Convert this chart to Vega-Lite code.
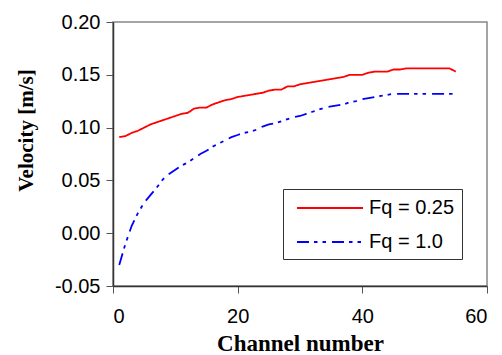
{
  "$schema": "https://vega.github.io/schema/vega-lite/v6.json",
  "width": 374,
  "height": 264,
  "autosize": {"type": "none"},
  "padding": {"left": 113, "top": 22, "right": 15, "bottom": 69},
  "background": "white",
  "config": {
    "view": {"stroke": "#888888", "strokeWidth": 1.5},
    "axis": {
      "labelFont": "Liberation Sans",
      "labelFontSize": 20,
      "labelColor": "black",
      "titleFont": "Liberation Serif",
      "titleFontWeight": "bold",
      "titleColor": "black",
      "domainColor": "#333333",
      "domainWidth": 1.5,
      "tickColor": "#555555",
      "tickSize": 7,
      "grid": false
    },
    "legend": {
      "labelFont": "Liberation Sans",
      "labelFontSize": 20,
      "labelColor": "black"
    }
  },
  "data": {
    "values": [
      {"ch": 1, "v": 0.091, "s": "Fq = 0.25"},
      {"ch": 2, "v": 0.092, "s": "Fq = 0.25"},
      {"ch": 3, "v": 0.095, "s": "Fq = 0.25"},
      {"ch": 4, "v": 0.097, "s": "Fq = 0.25"},
      {"ch": 5, "v": 0.100, "s": "Fq = 0.25"},
      {"ch": 6, "v": 0.103, "s": "Fq = 0.25"},
      {"ch": 7, "v": 0.105, "s": "Fq = 0.25"},
      {"ch": 8, "v": 0.107, "s": "Fq = 0.25"},
      {"ch": 9, "v": 0.109, "s": "Fq = 0.25"},
      {"ch": 10, "v": 0.111, "s": "Fq = 0.25"},
      {"ch": 11, "v": 0.113, "s": "Fq = 0.25"},
      {"ch": 12, "v": 0.114, "s": "Fq = 0.25"},
      {"ch": 13, "v": 0.118, "s": "Fq = 0.25"},
      {"ch": 14, "v": 0.119, "s": "Fq = 0.25"},
      {"ch": 15, "v": 0.119, "s": "Fq = 0.25"},
      {"ch": 16, "v": 0.122, "s": "Fq = 0.25"},
      {"ch": 17, "v": 0.124, "s": "Fq = 0.25"},
      {"ch": 18, "v": 0.126, "s": "Fq = 0.25"},
      {"ch": 19, "v": 0.127, "s": "Fq = 0.25"},
      {"ch": 20, "v": 0.129, "s": "Fq = 0.25"},
      {"ch": 21, "v": 0.130, "s": "Fq = 0.25"},
      {"ch": 22, "v": 0.131, "s": "Fq = 0.25"},
      {"ch": 23, "v": 0.132, "s": "Fq = 0.25"},
      {"ch": 24, "v": 0.133, "s": "Fq = 0.25"},
      {"ch": 25, "v": 0.135, "s": "Fq = 0.25"},
      {"ch": 26, "v": 0.136, "s": "Fq = 0.25"},
      {"ch": 27, "v": 0.136, "s": "Fq = 0.25"},
      {"ch": 28, "v": 0.139, "s": "Fq = 0.25"},
      {"ch": 29, "v": 0.139, "s": "Fq = 0.25"},
      {"ch": 30, "v": 0.141, "s": "Fq = 0.25"},
      {"ch": 31, "v": 0.142, "s": "Fq = 0.25"},
      {"ch": 32, "v": 0.143, "s": "Fq = 0.25"},
      {"ch": 33, "v": 0.144, "s": "Fq = 0.25"},
      {"ch": 34, "v": 0.145, "s": "Fq = 0.25"},
      {"ch": 35, "v": 0.146, "s": "Fq = 0.25"},
      {"ch": 36, "v": 0.147, "s": "Fq = 0.25"},
      {"ch": 37, "v": 0.148, "s": "Fq = 0.25"},
      {"ch": 38, "v": 0.150, "s": "Fq = 0.25"},
      {"ch": 39, "v": 0.150, "s": "Fq = 0.25"},
      {"ch": 40, "v": 0.150, "s": "Fq = 0.25"},
      {"ch": 41, "v": 0.152, "s": "Fq = 0.25"},
      {"ch": 42, "v": 0.153, "s": "Fq = 0.25"},
      {"ch": 43, "v": 0.153, "s": "Fq = 0.25"},
      {"ch": 44, "v": 0.153, "s": "Fq = 0.25"},
      {"ch": 45, "v": 0.155, "s": "Fq = 0.25"},
      {"ch": 46, "v": 0.155, "s": "Fq = 0.25"},
      {"ch": 47, "v": 0.156, "s": "Fq = 0.25"},
      {"ch": 48, "v": 0.156, "s": "Fq = 0.25"},
      {"ch": 49, "v": 0.156, "s": "Fq = 0.25"},
      {"ch": 50, "v": 0.156, "s": "Fq = 0.25"},
      {"ch": 51, "v": 0.156, "s": "Fq = 0.25"},
      {"ch": 52, "v": 0.156, "s": "Fq = 0.25"},
      {"ch": 53, "v": 0.156, "s": "Fq = 0.25"},
      {"ch": 54, "v": 0.156, "s": "Fq = 0.25"},
      {"ch": 55, "v": 0.153, "s": "Fq = 0.25"},
      {"ch": 1, "v": -0.030, "s": "Fq = 1.0"},
      {"ch": 2, "v": -0.010, "s": "Fq = 1.0"},
      {"ch": 3, "v": 0.007, "s": "Fq = 1.0"},
      {"ch": 4, "v": 0.019, "s": "Fq = 1.0"},
      {"ch": 5, "v": 0.029, "s": "Fq = 1.0"},
      {"ch": 6, "v": 0.036, "s": "Fq = 1.0"},
      {"ch": 7, "v": 0.043, "s": "Fq = 1.0"},
      {"ch": 8, "v": 0.051, "s": "Fq = 1.0"},
      {"ch": 9, "v": 0.056, "s": "Fq = 1.0"},
      {"ch": 10, "v": 0.060, "s": "Fq = 1.0"},
      {"ch": 11, "v": 0.064, "s": "Fq = 1.0"},
      {"ch": 12, "v": 0.067, "s": "Fq = 1.0"},
      {"ch": 13, "v": 0.071, "s": "Fq = 1.0"},
      {"ch": 14, "v": 0.075, "s": "Fq = 1.0"},
      {"ch": 15, "v": 0.078, "s": "Fq = 1.0"},
      {"ch": 16, "v": 0.082, "s": "Fq = 1.0"},
      {"ch": 17, "v": 0.085, "s": "Fq = 1.0"},
      {"ch": 18, "v": 0.088, "s": "Fq = 1.0"},
      {"ch": 19, "v": 0.091, "s": "Fq = 1.0"},
      {"ch": 20, "v": 0.093, "s": "Fq = 1.0"},
      {"ch": 21, "v": 0.095, "s": "Fq = 1.0"},
      {"ch": 22, "v": 0.096, "s": "Fq = 1.0"},
      {"ch": 23, "v": 0.098, "s": "Fq = 1.0"},
      {"ch": 24, "v": 0.101, "s": "Fq = 1.0"},
      {"ch": 25, "v": 0.103, "s": "Fq = 1.0"},
      {"ch": 26, "v": 0.104, "s": "Fq = 1.0"},
      {"ch": 27, "v": 0.106, "s": "Fq = 1.0"},
      {"ch": 28, "v": 0.108, "s": "Fq = 1.0"},
      {"ch": 29, "v": 0.110, "s": "Fq = 1.0"},
      {"ch": 30, "v": 0.111, "s": "Fq = 1.0"},
      {"ch": 31, "v": 0.113, "s": "Fq = 1.0"},
      {"ch": 32, "v": 0.115, "s": "Fq = 1.0"},
      {"ch": 33, "v": 0.117, "s": "Fq = 1.0"},
      {"ch": 34, "v": 0.119, "s": "Fq = 1.0"},
      {"ch": 35, "v": 0.120, "s": "Fq = 1.0"},
      {"ch": 36, "v": 0.121, "s": "Fq = 1.0"},
      {"ch": 37, "v": 0.122, "s": "Fq = 1.0"},
      {"ch": 38, "v": 0.124, "s": "Fq = 1.0"},
      {"ch": 39, "v": 0.125, "s": "Fq = 1.0"},
      {"ch": 40, "v": 0.127, "s": "Fq = 1.0"},
      {"ch": 41, "v": 0.128, "s": "Fq = 1.0"},
      {"ch": 42, "v": 0.129, "s": "Fq = 1.0"},
      {"ch": 43, "v": 0.130, "s": "Fq = 1.0"},
      {"ch": 44, "v": 0.131, "s": "Fq = 1.0"},
      {"ch": 45, "v": 0.132, "s": "Fq = 1.0"},
      {"ch": 46, "v": 0.132, "s": "Fq = 1.0"},
      {"ch": 47, "v": 0.132, "s": "Fq = 1.0"},
      {"ch": 48, "v": 0.132, "s": "Fq = 1.0"},
      {"ch": 49, "v": 0.132, "s": "Fq = 1.0"},
      {"ch": 50, "v": 0.132, "s": "Fq = 1.0"},
      {"ch": 51, "v": 0.132, "s": "Fq = 1.0"},
      {"ch": 52, "v": 0.132, "s": "Fq = 1.0"},
      {"ch": 53, "v": 0.132, "s": "Fq = 1.0"},
      {"ch": 54, "v": 0.132, "s": "Fq = 1.0"},
      {"ch": 55, "v": 0.132, "s": "Fq = 1.0"}
    ]
  },
  "mark": {"type": "line", "strokeWidth": 1.8},
  "encoding": {
    "x": {
      "field": "ch",
      "type": "quantitative",
      "scale": {"domain": [0, 60], "nice": false},
      "axis": {"values": [0, 20, 40, 60], "title": "Channel number", "titleFontSize": 23, "labelPadding": 13, "titlePadding": 6}
    },
    "y": {
      "field": "v",
      "type": "quantitative",
      "scale": {"domain": [-0.05, 0.2], "nice": false, "zero": false},
      "axis": {
        "values": [-0.05, 0, 0.05, 0.1, 0.15, 0.2],
        "labelExpr": "replace(format(datum.value, '.2f'), '\u2212', '-')",
        "title": "Velocity [m/s]",
        "titleFontSize": 21,
        "titleY": 108,
        "labelPadding": 6,
        "titlePadding": 18
      }
    },
    "color": {
      "field": "s",
      "type": "nominal",
      "scale": {"domain": ["Fq = 0.25", "Fq = 1.0"], "range": ["#ff0000", "#0000ff"]},
      "legend": {
        "title": null,
        "orient": "none",
        "legendX": 170,
        "legendY": 167,
        "symbolType": "M-3,0H3",
        "symbolSize": 484,
        "symbolOffset": 28,
        "symbolStrokeWidth": 1.8,
        "strokeColor": "#333333",
        "fillColor": "white",
        "padding": 7,
        "rowPadding": 12,
        "labelOffset": 27
      }
    },
    "strokeDash": {
      "field": "s",
      "type": "nominal",
      "scale": {"domain": ["Fq = 0.25", "Fq = 1.0"], "range": [[1, 0], [12, 5, 3.5, 5, 3.5, 6]]},
      "legend": null
    }
  }
}
